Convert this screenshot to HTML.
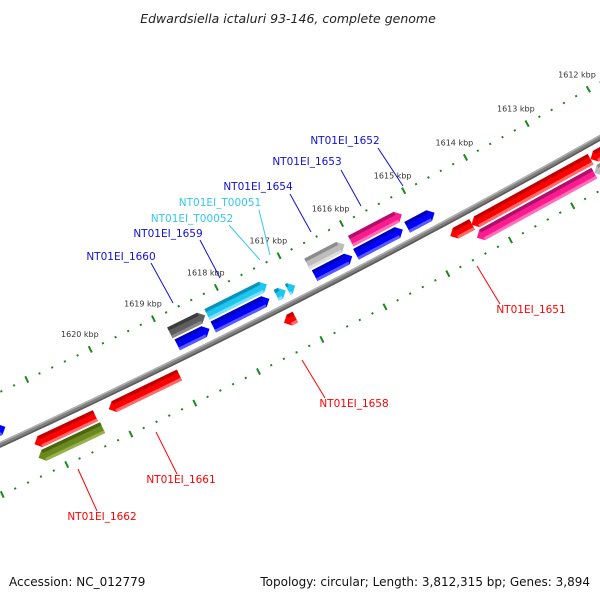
<!DOCTYPE html>
<html><head><meta charset="utf-8"><style>
html,body{margin:0;padding:0;background:#fff;}
svg{display:block;font-family:"DejaVu Sans","Liberation Sans",sans-serif;}
</style></head><body>
<svg id="map" width="600" height="600" viewBox="0 0 600 600" xmlns="http://www.w3.org/2000/svg">
<text x="288" y="23" text-anchor="middle" font-size="12.5" font-style="italic" fill="#222">Edwardsiella ictaluri 93-146, complete genome</text>
<g id="ticks"></g>
<g id="backbone"></g>
<g id="features"></g>
<g id="labels" font-size="10.5">
<g><line x1="378" y1="148" x2="403" y2="186" stroke="#1010d8" stroke-width="1"/><text x="345" y="144" text-anchor="middle" fill="#1010d8">NT01EI_1652</text></g>
<g><line x1="341" y1="170" x2="361" y2="206" stroke="#1010d8" stroke-width="1"/><text x="307" y="165" text-anchor="middle" fill="#1010d8">NT01EI_1653</text></g>
<g><line x1="290" y1="194" x2="311" y2="232" stroke="#1010d8" stroke-width="1"/><text x="258" y="190" text-anchor="middle" fill="#1010d8">NT01EI_1654</text></g>
<g><line x1="259" y1="210" x2="270" y2="255" stroke="#33c8f0" stroke-width="1"/><text x="220" y="206" text-anchor="middle" fill="#33c8f0">NT01EI_T00051</text></g>
<g><line x1="229" y1="225" x2="260" y2="260" stroke="#33c8f0" stroke-width="1"/><text x="192" y="222" text-anchor="middle" fill="#33c8f0">NT01EI_T00052</text></g>
<g><line x1="200" y1="240" x2="220" y2="278" stroke="#1010d8" stroke-width="1"/><text x="168" y="237" text-anchor="middle" fill="#1010d8">NT01EI_1659</text></g>
<g><line x1="151" y1="263" x2="173" y2="303" stroke="#1010d8" stroke-width="1"/><text x="121" y="260" text-anchor="middle" fill="#1010d8">NT01EI_1660</text></g>
<g><line x1="500" y1="304" x2="477" y2="266" stroke="#ff0000" stroke-width="1"/><text x="531" y="313" text-anchor="middle" fill="#ff0000">NT01EI_1651</text></g>
<g><line x1="325" y1="398" x2="302" y2="360" stroke="#ff0000" stroke-width="1"/><text x="354" y="407" text-anchor="middle" fill="#ff0000">NT01EI_1658</text></g>
<g><line x1="177" y1="474" x2="156" y2="432" stroke="#ff0000" stroke-width="1"/><text x="181" y="483" text-anchor="middle" fill="#ff0000">NT01EI_1661</text></g>
<g><line x1="97" y1="511" x2="78" y2="469" stroke="#ff0000" stroke-width="1"/><text x="102" y="520" text-anchor="middle" fill="#ff0000">NT01EI_1662</text></g>
</g>
<text x="9" y="586" font-size="12" fill="#111">Accession: NC_012779</text>
<text x="590" y="586" text-anchor="end" font-size="12" fill="#111">Topology: circular; Length: 3,812,315 bp; Genes: 3,894</text>
</svg>
<script>
// Feature data (kbp)
const featNames = ["NT01EI_1663","NT01EI_1660","NT01EI_1659","NT01EI_1655","NT01EI_1654","NT01EI_1652",
  "NT01EI_1661b","NT01EI_1660b","NT01EI_T00052","NT01EI_T00051","NT01EI_1653a","NT01EI_1653","NT01EI_1653c",
  "NT01EI_1662a","NT01EI_1661","NT01EI_1658","NT01EI_1651a","NT01EI_1651","NT01EI_1650",
  "NT01EI_1662","NT01EI_1651b","NT01EI_1650b"];
const featStart = [1621.56,1618.32,1617.34,1616.10,1616.10,1615.18,
  1618.35,1617.40,1617.14,1616.99,1616.08,1615.27,1614.76,
  1620.34,1619.02,1617.19,1614.37,1612.46,1611.86,
  1620.32,1612.51,1611.86];
const featEnd = [1621.80,1618.88,1618.29,1616.70,1616.70,1616.00,
  1618.86,1618.29,1617.29,1617.11,1616.68,1616.02,1615.20,
  1621.29,1620.13,1617.37,1614.72,1614.38,1612.46,
  1621.32,1614.40,1612.51];
const featRing = [1,2,2,2,2,2, 1,1,1,1,1,1,1, 3,3,3,3,3,3, 4,4,4];
const featType = ["blue","dgrey","cyan","lgrey","lgrey","pink",
  "blue","blue","cyan","cyan","blue","blue","blue",
  "red","red","red","red","red","red",
  "olive","pink","lgrey"];
// fix: item 3 is not shown (duplicate placeholder) -> skip
const featSkip = [false,false,false,true,false,false, false,false,false,false,false,false,false, false,false,false,false,false,false, false,false,false];
// Ruler
const tickMajor = [1610,1611,1612,1613,1614,1615,1616,1617,1618,1619,1620,1621,1622,1623];
const tickLabels = ["1612 kbp","1613 kbp","1614 kbp","1615 kbp","1616 kbp","1617 kbp","1618 kbp","1619 kbp","1620 kbp"];
const tickLabelPos = [1612,1613,1614,1615,1616,1617,1618,1619,1620];

const NS="http://www.w3.org/2000/svg";
const CX=-3500, CY=-7134, R=8348, A0=60.49, DEG=0.485;
function pt(k,o){const a=(A0+(k-1612)*DEG)*Math.PI/180;const r=R-o;return [CX+r*Math.cos(a),CY+r*Math.sin(a)];}
function poly(pts){return pts.map(p=>p[0].toFixed(2)+","+p[1].toFixed(2)).join(" ");}
const colors={blue:["#0000ff","#0000b8","#5a5aff"],red:["#ff0000","#c00000","#ff6a6a"],pink:["#ff1a90","#b0106a","#ff70bb"],
  lgrey:["#bdbdbd","#8c8c8c","#dedede"],dgrey:["#5e5e5e","#3c3c3c","#8a8a8a"],cyan:["#1ec6f2","#0e93b8","#7fe0ff"],olive:["#6b8a1e","#4a6410","#98b050"]};
const ringIn={1:20,2:34,3:-8,4:-22}, ringOut={1:8,2:22,3:-20,4:-34};

// backbone
const bb=document.getElementById('backbone');
function band(g,o1,o2,fill,name){const pts=[];for(let k=1609;k<=1624;k+=0.25)pts.push(pt(k,o1));for(let k=1624;k>=1609;k-=0.25)pts.push(pt(k,o2));
 const p=document.createElementNS(NS,'polygon');p.setAttribute('points',poly(pts));p.setAttribute('fill',fill);
 
 
 g.appendChild(p);}
band(bb,2.8,-2.8,"#808080","backbone-line");
band(bb,2.8,1.2,"#b0b0b0","backbone-highlight");
band(bb,-1.2,-2.8,"#5a5a5a","backbone-shadow");

// ticks
const tg=document.getElementById('ticks');
function tickLine(k,o1,o2,w){const a=pt(k,o1),b=pt(k,o2);const l=document.createElementNS(NS,'line');
 l.setAttribute('x1',a[0]);l.setAttribute('y1',a[1]);l.setAttribute('x2',b[0]);l.setAttribute('y2',b[1]);
 l.setAttribute('stroke','#1a8a1a');l.setAttribute('stroke-width',w);
 
 
 tg.appendChild(l);}
for(let i=0;i<tickMajor.length;i++){
 const k0=tickMajor[i];
 [[48],[-46]].forEach(([o])=>{tickLine(k0,o+3.5,o-3.5,2);
  for(let j=1;j<5;j++)tickLine(k0+j*0.2,o+1,o-1,2);});
}
for(let i=0;i<tickLabels.length;i++){const p=pt(tickLabelPos[i],65);const t=document.createElementNS(NS,'text');
 t.setAttribute('x',p[0]-3);t.setAttribute('y',p[1]+3);t.setAttribute('text-anchor','middle');t.setAttribute('font-size','8');t.setAttribute('fill','#333');
 t.textContent=tickLabels[i];
 
 
 tg.appendChild(t);}

// features
const fg=document.getElementById('features');
const H=0.085;
for(let i=0;i<featStart.length;i++){
 if(featSkip[i])continue;
 const k1=featStart[i],k2=featEnd[i],ring=featRing[i];const oi=ringIn[ring],oo=ringOut[ring],om=(oi+oo)/2;
 const fwd=ring<=2;const c=colors[featType[i]];const len=k2-k1;const h=Math.min(H,len);
 let pts,base1,base2;
 if(fwd){pts=[pt(k2,oi),pt(k1+h,oi),pt(k1,om),pt(k1+h,oo),pt(k2,oo)];base1=k1+h;base2=k2;}
 else{pts=[pt(k1,oi),pt(k2-h,oi),pt(k2,om),pt(k2-h,oo),pt(k1,oo)];base1=k1;base2=k2-h;}
 const g=document.createElementNS(NS,'g');
 
 
 const p=document.createElementNS(NS,'polygon');p.setAttribute('points',poly(pts));p.setAttribute('fill',c[0]);g.appendChild(p);
 if(base2-base1>0.01){
  const s1=document.createElementNS(NS,'polygon');s1.setAttribute('points',poly([pt(base1,oi),pt(base2,oi),pt(base2,oi-3.5),pt(base1,oi-3.5)]));s1.setAttribute('fill',c[1]);g.appendChild(s1);
  const s2=document.createElementNS(NS,'polygon');s2.setAttribute('points',poly([pt(base1,oo+3),pt(base2,oo+3),pt(base2,oo),pt(base1,oo)]));s2.setAttribute('fill',c[2]);g.appendChild(s2);
 }
 fg.appendChild(g);
}
</script>
</body></html>
